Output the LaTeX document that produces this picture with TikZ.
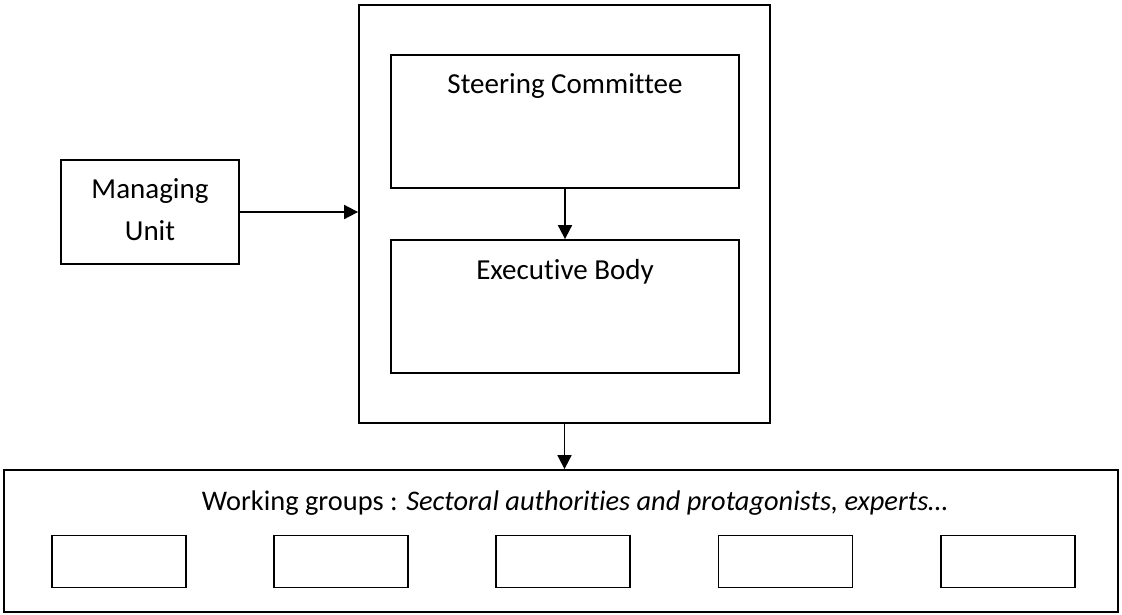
\documentclass[tikz,border=0pt]{standalone}
\usepackage{fontspec}
\setmainfont[Ligatures={NoCommon}]{Carlito}
\usetikzlibrary{arrows.meta}
\begin{document}
\begin{tikzpicture}[x=1pt,y=-1pt,
  box/.style={draw=black,line width=1.8pt,rectangle,inner sep=0pt},
  lbl/.style={inner sep=0pt,anchor=base,font=\fontsize{29}{36}\selectfont},
  conn/.style={line width=1.8pt,-{Triangle[length=14pt,width=14pt]}}]
\useasboundingbox[fill=white] (0,0) rectangle (1122,614);
% outer box
\node[box,minimum width=411pt,minimum height=418pt] (outer) at (564.5,214) {};
\node[box,minimum width=348pt,minimum height=133pt] (SC) at (565,121.5) {};
\node[box,minimum width=348pt,minimum height=133pt] (EB) at (565,306.5) {};
\node[lbl] (sctext) at (565,93) {Steering Committee};
\node[lbl] (ebtext) at (565,279) {Executive Body};
% managing unit
\node[box,minimum width=178pt,minimum height=104pt] (MU) at (150,212) {};
\node[lbl] (mu1) at (150,198) {Managing};
\node[lbl] (mu2) at (150,240) {Unit};
% working groups
\node[box,minimum width=1114pt,minimum height=142pt] (WG) at (561,541) {};
\node[lbl,font=\fontsize{28.4}{36}\selectfont] (wgtext) at (575,510) {Working groups : \textit{Sectoral authorities and protagonists, experts…}};
\foreach \i/\x in {1/119,2/341,3/563,4/785.5,5/1008}{
  \node[box,minimum width=134pt,minimum height=52pt] (g\i) at (\x,561.5) {};
}
% connectors
\draw[conn] (MU.east) -- (outer.west |- MU.east);
\draw[conn] (SC.south) -- (EB.north);
\draw[conn] (outer.south) -- (outer.south |- WG.north);
\end{tikzpicture}
\end{document}
